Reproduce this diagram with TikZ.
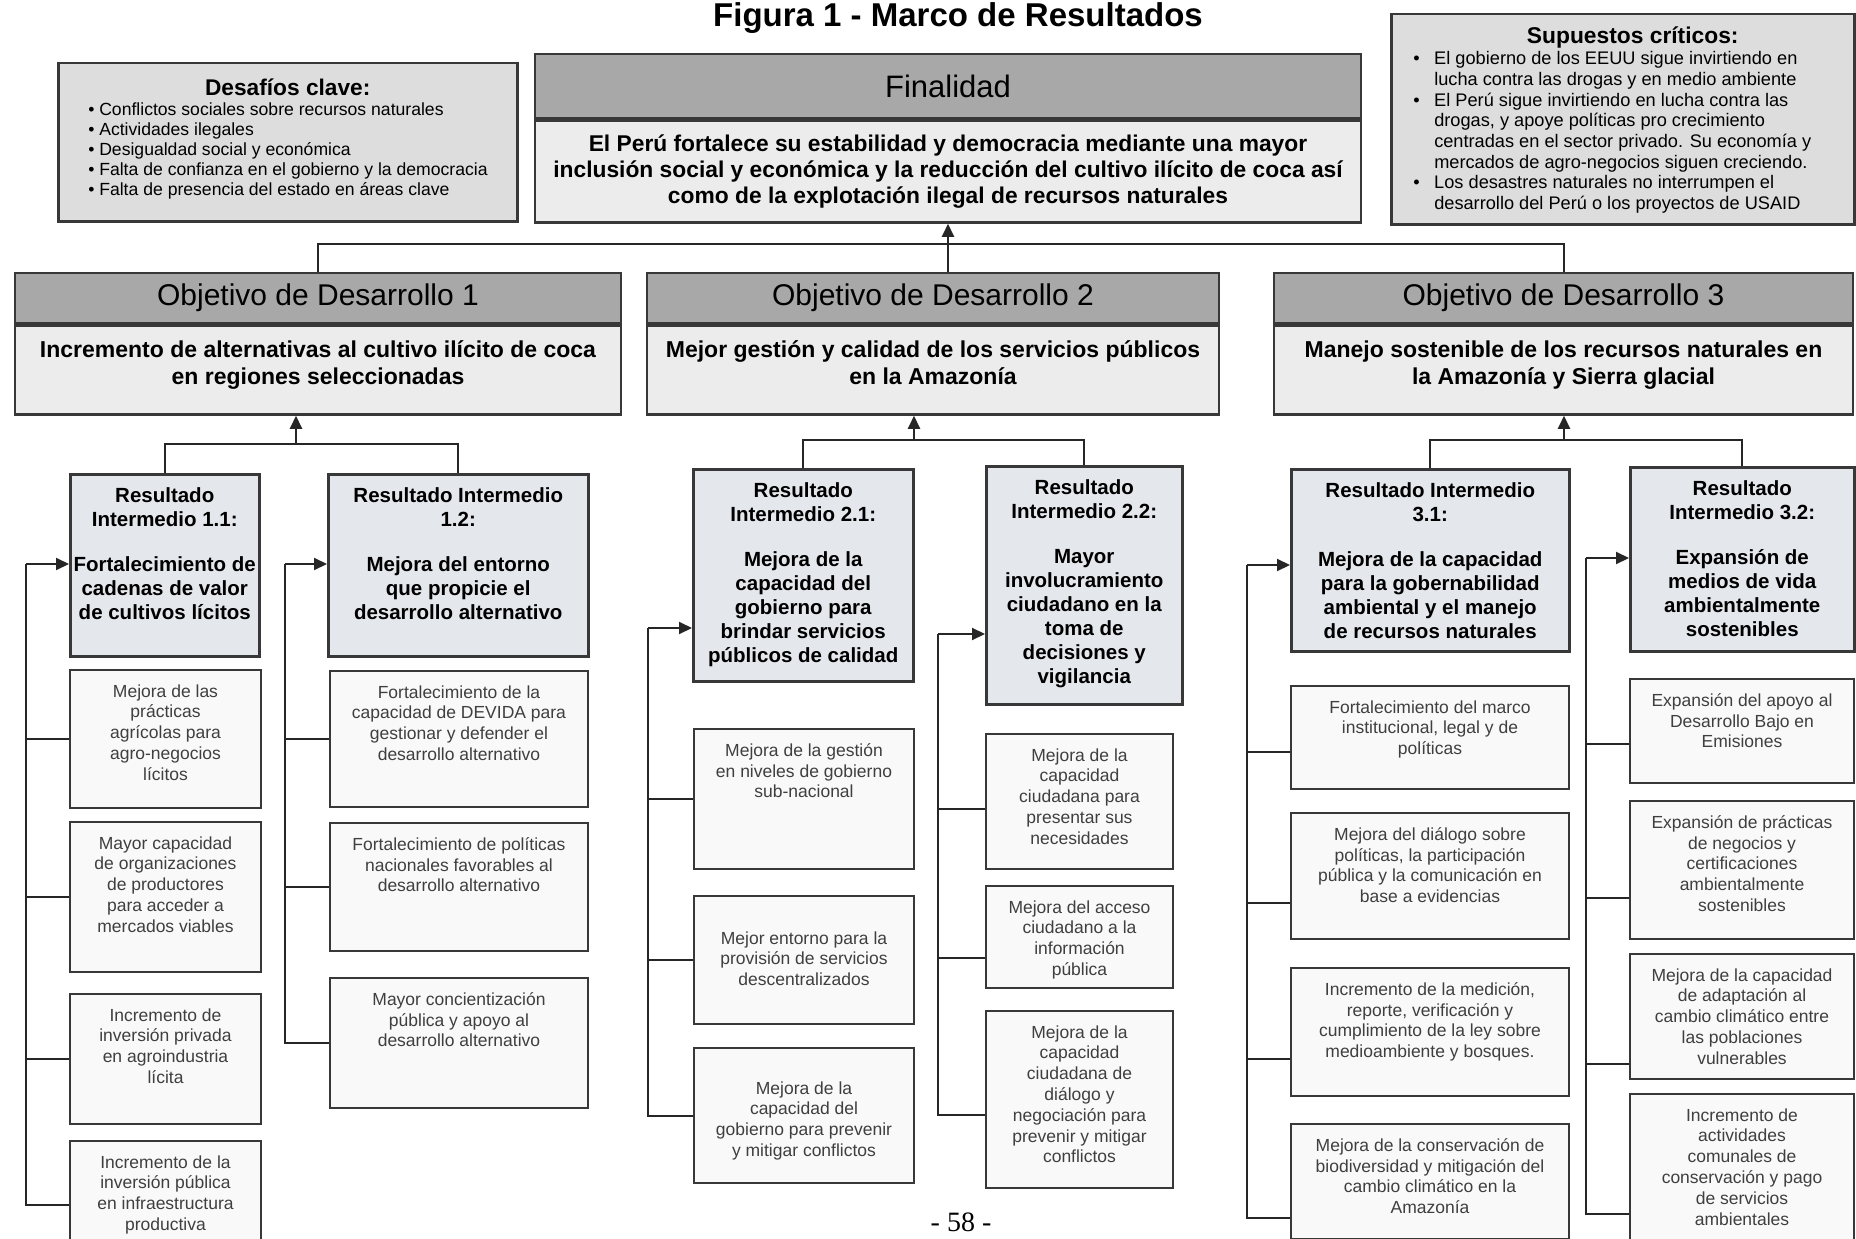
\documentclass[tikz,border=0pt]{standalone}
\usepackage{fontspec}
\setmainfont{Liberation Sans}
\newfontfamily\fuentepagina{Liberation Serif}
\usetikzlibrary{positioning, arrows.meta}

\definecolor{borde}{HTML}{383838}
\definecolor{linea}{HTML}{262626}
\definecolor{grisoscuro}{HTML}{A8A8A8}
\definecolor{grisclaro}{HTML}{ECECEC}
\definecolor{grisnota}{HTML}{DDDDDD}
\definecolor{azulgris}{HTML}{E4E7EC}
\definecolor{blanco}{HTML}{F9F9F9}
\definecolor{textosub}{HTML}{3F3F3F}

% texto alineado arriba: [relleno]{ancho}{alto}{texto}
\newcommand{\caja}[4][14.5]{\parbox[c][#3pt][t]{#2pt}{\centering\vspace*{#1pt}#4}}
\newcommand{\vineta}[1]{\par\hangindent=21pt\hangafter=1\noindent\makebox[21pt][l]{•}#1\par}

\begin{document}
\begin{tikzpicture}[x=1pt,y=-1pt]
\tikzstyle{cabecera}=[draw=borde, line width=2.5pt, fill=grisoscuro, inner sep=0pt, font=\fontsize{30}{36}\selectfont]
\tikzstyle{cuerpo}=[draw=borde, line width=2.5pt, fill=grisclaro, inner sep=0pt, align=center, font=\fontsize{23}{27}\selectfont\bfseries]
\tikzstyle{nota}=[draw=borde, line width=2.5pt, fill=grisnota, inner sep=0pt, anchor=north west]
\tikzstyle{resultado}=[draw=borde, line width=2.5pt, fill=azulgris, inner sep=0pt, anchor=north west, font=\fontsize{20.5}{24}\selectfont\bfseries]
\tikzstyle{subresultado}=[draw=borde, line width=2pt, fill=blanco, inner sep=0pt, anchor=north west, text=textosub, font=\fontsize{17.5}{20.8}\selectfont]
\tikzstyle{conector}=[draw=linea, line width=2pt]
\tikzstyle{flecha}=[conector, -{Triangle[length=13pt, width=12pt]}]

\path[use as bounding box, fill=white] (0,0) rectangle (1856,1239);

\node[font=\fontsize{33}{38}\selectfont\bfseries] (titulo) at (958,18) {Figura 1 - Marco de Resultados};

% notas laterales
\node[nota] (desafios) at (57,62) {\parbox[c][158pt][t]{459pt}{\vspace*{16pt}\centering{\fontsize{22.7}{26}\selectfont\bfseries Desafíos clave:}\par
  \raggedright\leftskip=30pt\fontsize{17.6}{20}\selectfont
  • Conflictos sociales sobre recursos naturales\\
  • Actividades ilegales\\
  • Desigualdad social y económica\\
  • Falta de confianza en el gobierno y la democracia\\
  • Falta de presencia del estado en áreas clave}};
\node[nota] (supuestos) at (1390,13) {\parbox[c][210pt][t]{463pt}{\vspace*{13pt}\centering\hspace*{20pt}{\fontsize{22.8}{26}\selectfont\bfseries Supuestos críticos:}\par
  \raggedright\leftskip=22pt\fontsize{18.2}{20.7}\selectfont
  \vineta{El gobierno de los EEUU sigue invirtiendo en\newline lucha contra las drogas y en medio ambiente}
  \vineta{El Perú sigue invirtiendo en lucha contra las\newline drogas, y apoye políticas pro crecimiento\newline centradas en el sector privado. Su economía y\newline mercados de agro-negocios siguen creciendo.}
  \vineta{Los desastres naturales no interrumpen el\newline desarrollo del Perú o los proyectos de USAID}}};

% finalidad
\node[cabecera, minimum width=826pt, minimum height=64pt, font=\fontsize{31}{36}\selectfont] (finH) at (948,86) {Finalidad};
\node[cuerpo, minimum width=826pt, minimum height=102pt, font=\fontsize{22.8}{26}\selectfont\bfseries, below=0pt of finH] (finB) {El Perú fortalece su estabilidad y democracia mediante una mayor\\inclusión social y económica y la reducción del cultivo ilícito de coca así\\como de la explotación ilegal de recursos naturales};

% objetivos de desarrollo
\node[cabecera, minimum width=606pt, minimum height=50pt] (od1H) at (318,298) {Objetivo de Desarrollo 1};
\node[cuerpo, below=0pt of od1H] (od1B) {\caja[15.5]{606}{89}{Incremento de alternativas al cultivo ilícito de coca\\en regiones seleccionadas}};
\node[cabecera, minimum width=572pt, minimum height=50pt] (od2H) at (933,298) {Objetivo de Desarrollo 2};
\node[cuerpo, below=0pt of od2H] (od2B) {\caja[15.5]{572}{89}{Mejor gestión y calidad de los servicios públicos\\en la Amazonía}};
\node[cabecera, minimum width=579pt, minimum height=50pt] (od3H) at (1563.5,298) {Objetivo de Desarrollo 3};
\node[cuerpo, below=0pt of od3H] (od3B) {\caja[15.5]{579}{89}{Manejo sostenible de los recursos naturales en\\la Amazonía y Sierra glacial}};

% resultados intermedios 1
\node[resultado] (ri11) at (69,473) {\caja[13]{189}{182}{Resultado\\Intermedio 1.1:\\[21pt]Fortalecimiento de\\cadenas de valor\\de cultivos lícitos}};
\node[resultado] (ri12) at (327,473) {\caja[13]{260}{182}{Resultado Intermedio\\1.2:\\[21pt]Mejora del entorno\\que propicie el\\desarrollo alternativo}};
\node[subresultado] (s11a) at (69,669) {\caja{191}{138}{Mejora de las\\prácticas\\agrícolas para\\agro-negocios\\lícitos}};
\node[subresultado] (s11b) at (69,821) {\caja{191}{150}{Mayor capacidad\\de organizaciones\\de productores\\para acceder a\\mercados viables}};
\node[subresultado] (s11c) at (69,993) {\caja{191}{130}{Incremento de\\inversión privada\\en agroindustria\\lícita}};
\node[subresultado] (s11d) at (69,1140) {\caja{191}{128}{Incremento de la\\inversión pública\\en infraestructura\\productiva}};
\node[subresultado] (s12a) at (329,670) {\caja{258}{136}{Fortalecimiento de la\\capacidad de DEVIDA para\\gestionar y defender el\\desarrollo alternativo}};
\node[subresultado] (s12b) at (329,822) {\caja{258}{128}{Fortalecimiento de políticas\\nacionales favorables al\\desarrollo alternativo}};
\node[subresultado] (s12c) at (329,977) {\caja{258}{130}{Mayor concientización\\pública y apoyo al\\desarrollo alternativo}};

% resultados intermedios 2
\node[resultado] (ri21) at (692,468) {\caja[13]{220}{212}{Resultado\\Intermedio 2.1:\\[21pt]Mejora de la\\capacidad del\\gobierno para\\brindar servicios\\públicos de calidad}};
\node[resultado] (ri22) at (985,465) {\caja[13]{196}{238}{Resultado\\Intermedio 2.2:\\[21pt]Mayor\\involucramiento\\ciudadano en la\\toma de\\decisiones y\\vigilancia}};
\node[subresultado] (s21a) at (693,728) {\caja{220}{140}{Mejora de la gestión\\en niveles de gobierno\\sub-nacional}};
\node[subresultado] (s21b) at (693,895) {\caja[35.5]{220}{128}{Mejor entorno para la\\provisión de servicios\\descentralizados}};
\node[subresultado] (s21c) at (693,1047) {\caja[33.5]{220}{135}{Mejora de la\\capacidad del\\gobierno para prevenir\\y mitigar conflictos}};
\node[subresultado] (s22a) at (985,733) {\caja{187}{135}{Mejora de la\\capacidad\\ciudadana para\\presentar sus\\necesidades}};
\node[subresultado] (s22b) at (985,885) {\caja{187}{102}{Mejora del acceso\\ciudadano a la\\información\\pública}};
\node[subresultado] (s22c) at (985,1010) {\caja{187}{177}{Mejora de la\\capacidad\\ciudadana de\\diálogo y\\negociación para\\prevenir y mitigar\\conflictos}};

% resultados intermedios 3
\node[resultado] (ri31) at (1290,468) {\caja[13]{278}{182}{Resultado Intermedio\\3.1:\\[21pt]Mejora de la capacidad\\para la gobernabilidad\\ambiental y el manejo\\de recursos naturales}};
\node[resultado] (ri32) at (1629,466) {\caja[13]{224}{184}{Resultado\\Intermedio 3.2:\\[21pt]Expansión de\\medios de vida\\ambientalmente\\sostenibles}};
\node[subresultado] (s31a) at (1290,685) {\caja{278}{103}{Fortalecimiento del marco\\institucional, legal y de\\políticas}};
\node[subresultado] (s31b) at (1290,812) {\caja{278}{126}{Mejora del diálogo sobre\\políticas, la participación\\pública y la comunicación en\\base a evidencias}};
\node[subresultado] (s31c) at (1290,967) {\caja{278}{128}{Incremento de la medición,\\reporte, verificación y\\cumplimiento de la ley sobre\\medioambiente y bosques.}};
\node[subresultado] (s31d) at (1290,1123) {\caja{278}{115}{Mejora de la conservación de\\biodiversidad y mitigación del\\cambio climático en la\\Amazonía}};
\node[subresultado] (s32a) at (1629,678) {\caja{224}{104}{Expansión del apoyo al\\Desarrollo Bajo en\\Emisiones}};
\node[subresultado] (s32b) at (1629,800) {\caja{224}{138}{Expansión de prácticas\\de negocios y\\certificaciones\\ambientalmente\\sostenibles}};
\node[subresultado] (s32c) at (1629,953) {\caja{224}{125}{Mejora de la capacidad\\de adaptación al\\cambio climático entre\\las poblaciones\\vulnerables}};
\node[subresultado] (s32d) at (1629,1093) {\caja{224}{150}{Incremento de\\actividades\\comunales de\\conservación y pago\\de servicios\\ambientales}};

\node[font=\fontsize{28}{32}\fuentepagina] (pagina) at (961,1222) {- 58 -};

% conexiones hacia la finalidad
\coordinate (bus0) at (948,244);
\draw[conector] (od1H.north) |- (bus0) -| (od3H.north);
\draw[flecha] (finB.south |- od2H.north) -- (finB.south);

% conexiones hacia los objetivos
\coordinate (bus1) at (296,444);
\draw[conector] (ri11.north) |- (bus1) -| (ri12.north);
\draw[flecha] (bus1) -- (bus1 |- od1B.south);
\coordinate (bus2) at (914,440);
\draw[conector] (ri21.north) |- (bus2) -| (ri22.north);
\draw[flecha] (bus2) -- (bus2 |- od2B.south);
\coordinate (bus3) at (1564,440);
\draw[conector] (ri31.north) |- (bus3) -| (ri32.north);
\draw[flecha] (bus3) -- (bus3 |- od3B.south);

% conexiones laterales
\coordinate (lado11) at (26,564);
\draw[flecha] (lado11) -- (lado11 -| ri11.west);
\draw[conector] (lado11) |- (s11d.west);
\foreach \s in {s11a,s11b,s11c}
  \draw[conector] (\s.west) -- (\s.west -| lado11);

\coordinate (lado12) at (285,564);
\draw[flecha] (lado12) -- (lado12 -| ri12.west);
\draw[conector] (lado12) |- (s12c.west);
\foreach \s in {s12a,s12b}
  \draw[conector] (\s.west) -- (\s.west -| lado12);

\coordinate (lado21) at (648,628);
\draw[flecha] (lado21) -- (lado21 -| ri21.west);
\draw[conector] (lado21) |- (s21c.west);
\foreach \s in {s21a,s21b}
  \draw[conector] (\s.west) -- (\s.west -| lado21);

\coordinate (lado22) at (938,634);
\draw[flecha] (lado22) -- (lado22 -| ri22.west);
\draw[conector] (lado22) |- ([yshift=-15pt]s22c.west);
\foreach \s/\d in {s22a/7, s22b/21}
  \draw[conector] ([yshift=-\d pt]\s.west) coordinate (t) -- (t -| lado22);

\coordinate (lado31) at (1247,565);
\draw[flecha] (lado31) -- (lado31 -| ri31.west);
\draw[conector] (lado31) |- ([yshift=-36pt]s31d.west);
\foreach \s/\d in {s31a/14, s31b/27, s31c/27}
  \draw[conector] ([yshift=-\d pt]\s.west) coordinate (t) -- (t -| lado31);

\coordinate (lado32) at (1586,558);
\draw[flecha] (lado32) -- (lado32 -| ri32.west);
\draw[conector] (lado32) |- ([yshift=-45pt]s32d.west);
\foreach \s/\d in {s32a/13, s32b/28, s32c/47}
  \draw[conector] ([yshift=-\d pt]\s.west) coordinate (t) -- (t -| lado32);
\end{tikzpicture}
\end{document}
